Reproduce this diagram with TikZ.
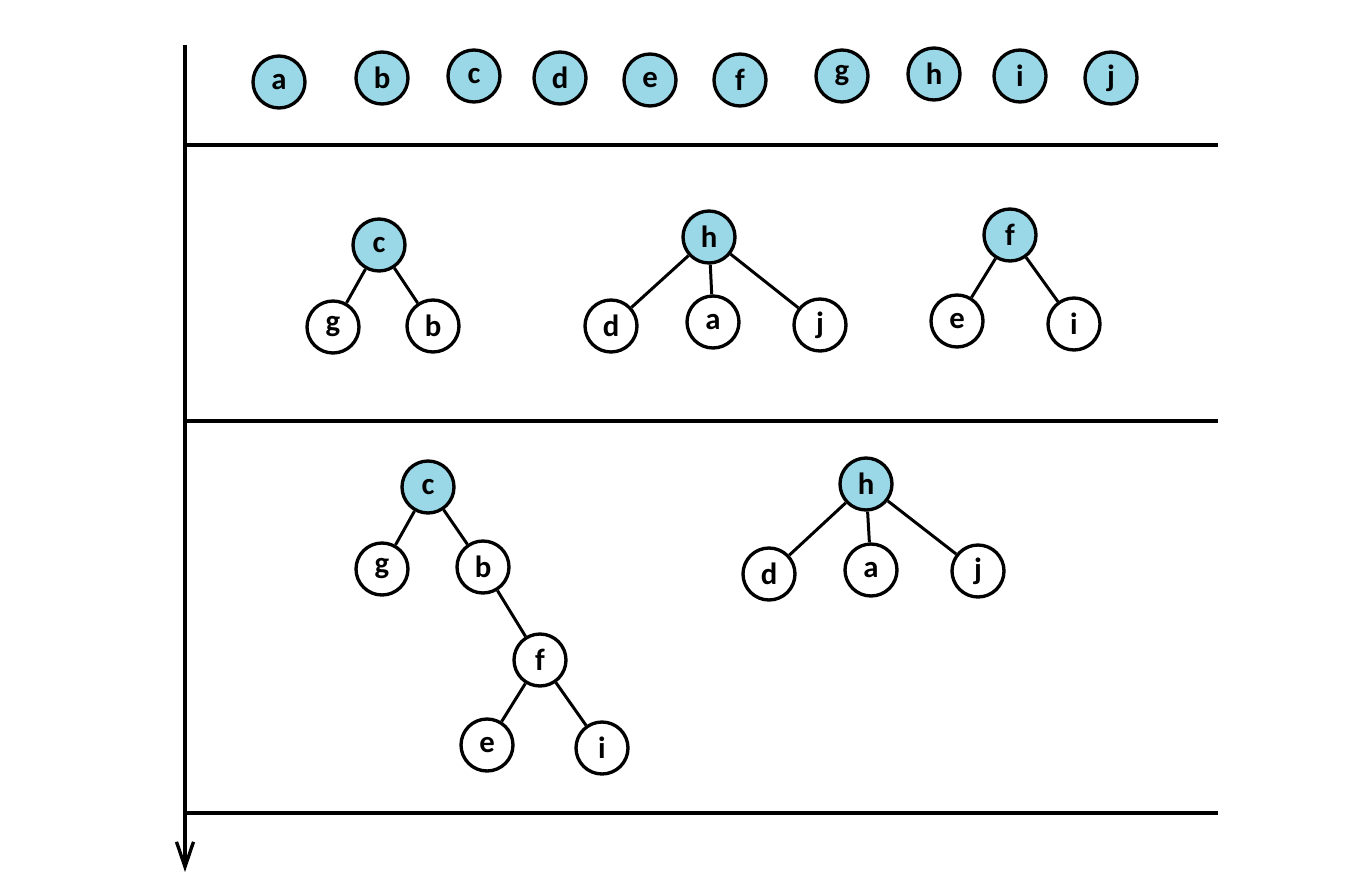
\documentclass[tikz,border=0pt]{standalone}
\usepackage{fontspec}
\setmainfont{Carlito}
\usetikzlibrary{arrows.meta}
\definecolor{rootcolor}{RGB}{154,216,232}

\begin{document}
\begin{tikzpicture}[
    x=0.02cm, y=-0.02cm,
    vert/.style={circle, draw, line width=1.9pt, minimum size=1.04cm, inner sep=0pt, font=\fontsize{17.5}{17.5}\selectfont\bfseries},
    root/.style={vert, fill=rootcolor},
    edge/.style={line width=1.7pt},
    rule/.style={line width=1.9pt}
]
\useasboundingbox (0,0) rectangle (1360,896);

% time axis and separators
\coordinate (top) at (185,45);
\coordinate (bot) at (185,872);
\draw[rule, -{Straight Barb[length=5mm,width=3.4mm,line width=1.9pt]}] (top) -- (bot);
\foreach \y/\n in {145/s1, 421/s2, 813/s3} {
  \coordinate (\n a) at (185,\y);
  \coordinate (\n b) at (1218,\y);
  \draw[rule] (\n a) -- (\n b);
}

% Row 1: singletons
\node[root] (a1) at (279,82) {a};
\node[root] (b1) at (382,78) {b};
\node[root] (c1) at (474,76) {c};
\node[root] (d1) at (560,78) {d};
\node[root] (e1) at (650,80) {e};
\node[root] (f1) at (740,80) {f};
\node[root] (g1) at (842,76) {g};
\node[root] (h1) at (934,74) {h};
\node[root] (i1) at (1020,76) {i};
\node[root] (j1) at (1111,78) {j};

% Row 2: three trees
\node[root] (c2) at (379,245) {c};
\node[vert] (g2) at (333,327) {g};
\node[vert] (b2) at (433,326) {b};
\node[root] (h2) at (709,237) {h};
\node[vert] (d2) at (611,326) {d};
\node[vert] (a2) at (713,322) {a};
\node[vert] (j2) at (820,325) {j};
\node[root] (f2) at (1010,235) {f};
\node[vert] (e2) at (957,321) {e};
\node[vert] (i2) at (1074,324) {i};
\draw[edge] (c2) -- (g2);
\draw[edge] (c2) -- (b2);
\draw[edge] (h2) -- (d2);
\draw[edge] (h2) -- (a2);
\draw[edge] (h2) -- (j2);
\draw[edge] (f2) -- (e2);
\draw[edge] (f2) -- (i2);

% Row 3: two trees
\node[root] (c3) at (428,487) {c};
\node[vert] (g3) at (382,569) {g};
\node[vert] (b3) at (483,567) {b};
\node[vert] (f3) at (540,660) {f};
\node[vert] (e3) at (487,745) {e};
\node[vert] (i3) at (602,748) {i};
\node[root] (h3) at (866,484) {h};
\node[vert] (d3) at (769,574) {d};
\node[vert] (a3) at (871,570) {a};
\node[vert] (j3) at (978,571) {j};
\draw[edge] (c3) -- (g3);
\draw[edge] (c3) -- (b3);
\draw[edge] (b3) -- (f3);
\draw[edge] (f3) -- (e3);
\draw[edge] (f3) -- (i3);
\draw[edge] (h3) -- (d3);
\draw[edge] (h3) -- (a3);
\draw[edge] (h3) -- (j3);
\end{tikzpicture}
\end{document}
